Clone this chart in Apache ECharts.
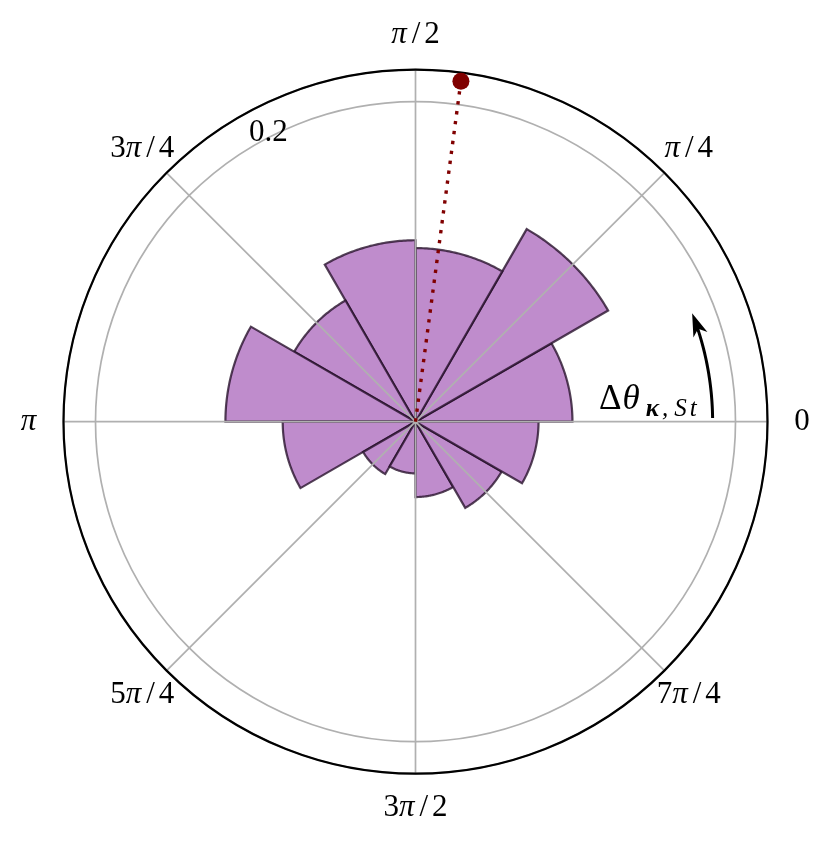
<!DOCTYPE html>
<html>
<head>
<meta charset="utf-8">
<script src="https://cdn.jsdelivr.net/npm/echarts@6/dist/echarts.min.js"></script>
<style>
html,body{margin:0;padding:0;background:#ffffff;}
#chart{width:830px;height:846px;}
</style>
</head>
<body>
<div id="chart"></div>
<script>
// ---- data ----
const binEdgesDeg = [0, 30, 60, 90, 120, 150, 180, 210, 240, 270, 300, 330, 360];
const binValues = [0.0981, 0.1390, 0.1085, 0.1134, 0.0875, 0.1188, 0.0830, 0.0378, 0.0323, 0.0471, 0.0622, 0.0769];
const angleTickValues = [0, 45, 90, 135, 180, 225, 270, 315];
const angleTickLabels = ['0', 'π/4', 'π/2', '3π/4', 'π', '5π/4', '3π/2', '7π/4'];
const radiusTickValues = [0.2];
const radiusTickLabels = ['0.2'];
const markerAngleDeg = [82.4];
const markerRadius = [0.2146];
const arrowRadius = [0.1857];
const arrowAnglesDeg = [0.7, 21.4];
const annotationText = ['Δ', 'θ', 'κ', ',', 'S', 't'];
const radiusMax = 0.22;

const SERIF = "'Liberation Serif', 'DejaVu Serif', serif";
const GRID = '#b0b0b0';

function renderBar(params, api) {
  const i = params.dataIndex;
  const a0 = binEdgesDeg[i], a1 = binEdgesDeg[i + 1];
  const r = api.value(0);
  const pts = [api.coord([0, a0])];
  const n = 48;
  for (let k = 0; k <= n; k++) pts.push(api.coord([r, a0 + (a1 - a0) * k / n]));
  return {
    type: 'polygon',
    shape: { points: pts },
    style: { fill: '#bf8ccc', stroke: 'rgba(36,14,40,0.78)', lineWidth: 2.2, lineJoin: 'miter' }
  };
}

// rich-text version of a label like "3π/4"
function richTick(s) {
  let out = '';
  for (const ch of s) {
    if (ch === 'π') out += '{p|π}';
    else if (ch === '/') out += '{sl|/}';
    else out += '{n|' + ch + '}';
  }
  return out;
}
const tickRich = {
  n: { fontSize: 31, fontFamily: SERIF, fill: '#000' },
  p: { fontSize: 31, fontFamily: SERIF, fontStyle: 'italic', fill: '#000', padding: [0, 1, 0, 0] },
  sl: { fontSize: 31, fontFamily: SERIF, fill: '#000', padding: [0, 4, 0, 4] }
};

function renderTickLabel(params, api) {
  const p = api.coord([api.value(0), api.value(1)]);
  return {
    type: 'text', x: p[0], y: p[1],
    style: { text: richTick(angleTickLabels[params.dataIndex]), rich: tickRich, align: 'center', verticalAlign: 'middle', fill: '#000' }
  };
}
function renderRadiusLabel(params, api) {
  const p = api.coord([api.value(0), api.value(1)]);
  return {
    type: 'text', x: p[0], y: p[1],
    style: { text: richTick(radiusTickLabels[params.dataIndex]), rich: tickRich, align: 'center', verticalAlign: 'middle', fill: '#000' }
  };
}

function renderArrow(params, api) {
  const r = api.value(0);
  const from = arrowAnglesDeg[0], to = arrowAnglesDeg[1];
  const c = api.coord([0, 0]);
  const tip = api.coord([r, to]);
  const rpx = Math.hypot(tip[0] - c[0], tip[1] - c[1]);
  const headLen = 23, headW = 15;
  const dDeg = (headLen * 0.6) / rpx * 180 / Math.PI;
  const n = 40;
  const shaft = [];
  for (let k = 0; k <= n; k++) shaft.push(api.coord([r, from + (to - dDeg - from) * k / n]));
  const before = api.coord([r, to - 0.5]);
  let ux = tip[0] - before[0], uy = tip[1] - before[1];
  const ul = Math.hypot(ux, uy); ux /= ul; uy /= ul;
  const px = -uy, py = ux;
  const bx = tip[0] - ux * headLen, by = tip[1] - uy * headLen;
  const head = [
    tip,
    [bx + px * headW / 2, by + py * headW / 2],
    [tip[0] - ux * headLen * 0.72, tip[1] - uy * headLen * 0.72],
    [bx - px * headW / 2, by - py * headW / 2]
  ];
  const start = api.coord([r, 0]);
  const T = annotationText;
  return {
    type: 'group',
    children: [
      { type: 'polyline', shape: { points: shaft }, style: { stroke: '#000', lineWidth: 3, fill: null } },
      { type: 'polygon', shape: { points: head }, style: { fill: '#000' } },
      {
        type: 'text',
        x: start[0] - 16,
        y: start[1],
        style: {
          text: '{d|' + T[0] + '}{t|' + T[1] + '}{k|' + T[2] + '}{c|' + T[3] + '}{S|' + T[4] + '}{s|' + T[5] + '}',
          align: 'right',
          verticalAlign: 'bottom',
          fill: '#000',
          rich: {
            d: { fontSize: 35, fontFamily: SERIF, lineHeight: 34, verticalAlign: 'bottom', padding: [0, 1, 4, 0] },
            t: { fontSize: 35, fontFamily: SERIF, fontStyle: 'italic', lineHeight: 34, verticalAlign: 'bottom', padding: [0, 3, 4, 0] },
            k: { fontSize: 25, fontFamily: SERIF, fontStyle: 'italic', fontWeight: 'bold', lineHeight: 22, verticalAlign: 'bottom', padding: [0, 3, 0, 3] },
            c: { fontSize: 25, fontFamily: SERIF, fontStyle: 'italic', lineHeight: 22, verticalAlign: 'bottom', padding: [0, 6, 0, 0] },
            S: { fontSize: 25, fontFamily: SERIF, fontStyle: 'italic', lineHeight: 22, verticalAlign: 'bottom', padding: [0, 3, 0, 0] },
            s: { fontSize: 25, fontFamily: SERIF, fontStyle: 'italic', lineHeight: 22, verticalAlign: 'bottom' }
          }
        }
      }
    ]
  };
}

const chart = echarts.init(document.getElementById('chart'), null, { renderer: 'canvas' });
chart.setOption({
  animation: false,
  backgroundColor: '#ffffff',
  polar: { center: [415.5, 421.7], radius: 352 },
  angleAxis: {
    type: 'value', min: 0, max: 360, interval: 45, startAngle: 0, clockwise: false, z: 4,
    axisLine: { show: true, lineStyle: { color: '#000', width: 2.2 } },
    axisTick: { show: false },
    axisLabel: { show: false },
    splitLine: { show: true, lineStyle: { color: GRID, width: 1.7 } }
  },
  radiusAxis: {
    type: 'value', min: 0, max: radiusMax, interval: 0.2, z: 3,
    axisLine: { show: false }, axisTick: { show: false }, axisLabel: { show: false },
    splitLine: { show: true, lineStyle: { color: GRID, width: 1.7 } }
  },
  series: [
    {
      type: 'custom', coordinateSystem: 'polar', z: 2,
      renderItem: renderBar,
      data: binValues.map((v, i) => [v, (binEdgesDeg[i] + binEdgesDeg[i + 1]) / 2])
    },
    {
      type: 'line', coordinateSystem: 'polar', z: 10, showSymbol: false,
      lineStyle: { color: '#800000', width: 3.4, type: [3.4, 6.6], cap: 'butt', opacity: 1 },
      data: [[0, markerAngleDeg[0]], [markerRadius[0], markerAngleDeg[0]]]
    },
    {
      type: 'scatter', coordinateSystem: 'polar', z: 11, clip: false,
      symbol: 'circle', symbolSize: 17,
      itemStyle: { color: '#800000', opacity: 1 },
      data: [[markerRadius[0], markerAngleDeg[0]]]
    },
    {
      type: 'custom', coordinateSystem: 'polar', z: 12, clip: false,
      renderItem: renderArrow,
      data: [[arrowRadius[0], arrowAnglesDeg[0]]]
    },
    {
      type: 'custom', coordinateSystem: 'polar', z: 12, clip: false,
      renderItem: renderTickLabel,
      data: angleTickValues.map(a => [0.2415, a])
    },
    {
      type: 'custom', coordinateSystem: 'polar', z: 12, clip: false,
      renderItem: renderRadiusLabel,
      data: radiusTickValues.map(v => [v * 1.0125, 117])
    }
  ]
});
</script>
</body>
</html>
